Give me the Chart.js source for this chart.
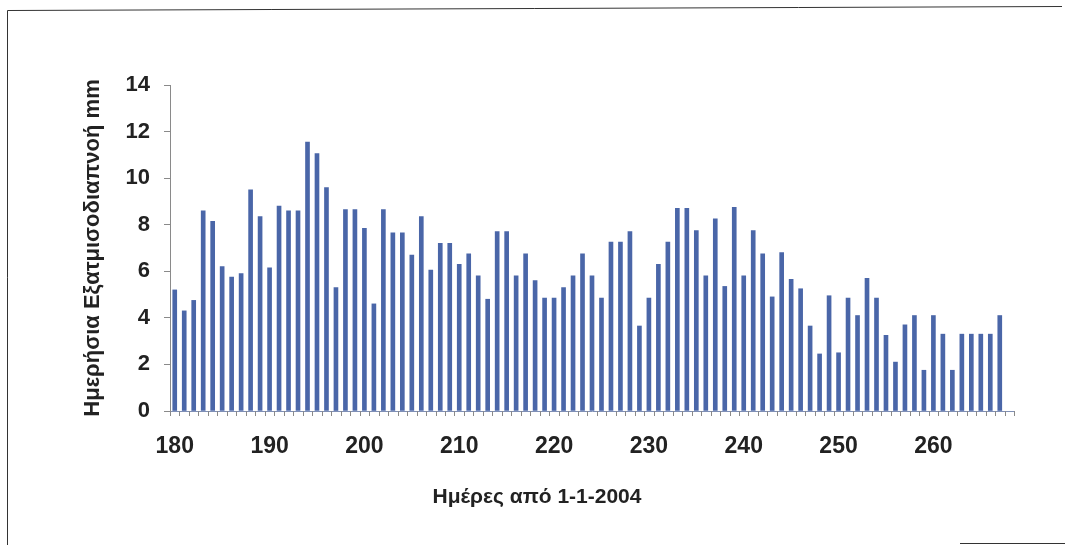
<!DOCTYPE html>
<html>
<head>
<meta charset="utf-8">
<script src="https://cdn.jsdelivr.net/npm/chart.js@4.4.1/dist/chart.umd.min.js"></script>
<style>
  html, body { margin: 0; padding: 0; background: #fff; }
  #wrap { width: 1065px; height: 545px; position: relative; }
</style>
</head>
<body>
<div id="wrap"><canvas id="grafica" width="1065" height="545"></canvas></div>
<script>
// ημέρες από 1-1-2004
const dias = [];
for (let d = 180; d <= 267; d++) dias.push(d);

// ημερήσια εξατμισοδιαπνοή (mm), διαβασμένη από το γράφημα
const evapo = [
  5.2, 4.3, 4.75, 8.6, 8.15, 6.2, 5.75, 5.9, 9.5, 8.35,
  6.15, 8.8, 8.6, 8.6, 11.55, 11.05, 9.6, 5.3, 8.65, 8.65,
  7.85, 4.6, 8.65, 7.65, 7.65, 6.7, 8.35, 6.05, 7.2, 7.2,
  6.3, 6.75, 5.8, 4.8, 7.7, 7.7, 5.8, 6.75, 5.6, 4.85,
  4.85, 5.3, 5.8, 6.75, 5.8, 4.85, 7.25, 7.25, 7.7, 3.65,
  4.85, 6.3, 7.25, 8.7, 8.7, 7.75, 5.8, 8.25, 5.35, 8.75,
  5.8, 7.75, 6.75, 4.9, 6.8, 5.65, 5.25, 3.65, 2.45, 4.95,
  2.5, 4.85, 4.1, 5.7, 4.85, 3.25, 2.1, 3.7, 4.1, 1.75,
  4.1, 3.3, 1.75, 3.3, 3.3, 3.3, 3.3, 4.1
];

const xTicks = [180, 190, 200, 210, 220, 230, 240, 250, 260];
const yTicks = [0, 2, 4, 6, 8, 10, 12, 14];
const tituloX = 'Ημέρες από 1-1-2004';

const fuente = "'Liberation Sans', Arial, sans-serif";

// marco, marcas menores del eje x y título del eje x (desplazado a la izquierda como en el original)
const extras = {
  id: 'extras',
  afterDraw(chart) {
    const ctx = chart.ctx;
    const x = chart.scales.x;
    const yb = chart.scales.y.getPixelForValue(0);
    ctx.save();
    ctx.strokeStyle = '#8a8a8a';
    ctx.lineWidth = 1;
    ctx.beginPath();
    for (let d = 179.5; d <= 268.5; d += 1) {
      const px = Math.round(x.getPixelForValue(d)) + 0.5;
      ctx.moveTo(px, yb);
      ctx.lineTo(px, yb + 5);
    }
    ctx.stroke();

    ctx.fillStyle = '#222';
    ctx.font = 'bold 21px ' + fuente;
    ctx.textAlign = 'center';
    ctx.textBaseline = 'middle';
    ctx.fillText(tituloX, 537, 497);

    // marco
    ctx.strokeStyle = '#333';
    ctx.beginPath();
    ctx.moveTo(7.5, 545);
    ctx.lineTo(7.5, 10.5);
    ctx.lineTo(1062, 6.5);
    ctx.moveTo(960, 543.5);
    ctx.lineTo(1065, 543.5);
    ctx.stroke();
    ctx.restore();
  }
};

const ctx = document.getElementById('grafica').getContext('2d');
const grafica = new Chart(ctx, {
  type: 'bar',
  data: {
    datasets: [{
      label: 'Εξατμισοδιαπνοή',
      data: dias.map((d, i) => ({ x: d, y: evapo[i] })),
      backgroundColor: '#4a66a8',
      borderWidth: 0,
      barThickness: 4
    }]
  },
  options: {
    responsive: false,
    animation: false,
    layout: { padding: { top: 85, right: 51, left: 76, bottom: 10 } },
    plugins: { legend: { display: false }, tooltip: { enabled: false } },
    scales: {
      x: {
        type: 'linear',
        offset: false,
        min: 179.5,
        max: 268.5,
        afterBuildTicks: axis => { axis.ticks = xTicks.map(v => ({ value: v })); },
        afterFit: axis => { axis.height = 124; },
        grid: { display: false },
        border: { display: true, color: '#7f8fb5', width: 1 },
        ticks: {
          color: '#222',
          font: { family: fuente, size: 23, weight: 'bold' },
          padding: 14,
          maxRotation: 0,
          autoSkip: false
        },
        title: { display: false }
      },
      y: {
        min: 0,
        max: 14,
        afterBuildTicks: axis => { axis.ticks = yTicks.map(v => ({ value: v })); },
        afterFit: axis => { axis.width = 94; },
        grid: { drawOnChartArea: false, tickLength: 6, color: '#8a8a8a' },
        border: { display: true, color: '#8a8a8a', width: 1 },
        ticks: {
          color: '#222',
          font: { family: fuente, size: 22, weight: 'bold' },
          padding: 14
        },
        title: {
          display: true,
          text: 'Ημερήσια Εξατμισοδιαπνοή mm',
          color: '#222',
          font: { family: fuente, size: 22, weight: 'bold' },
          padding: { bottom: 4 }
        }
      }
    }
  },
  plugins: [extras]
});
</script>
</body>
</html>
